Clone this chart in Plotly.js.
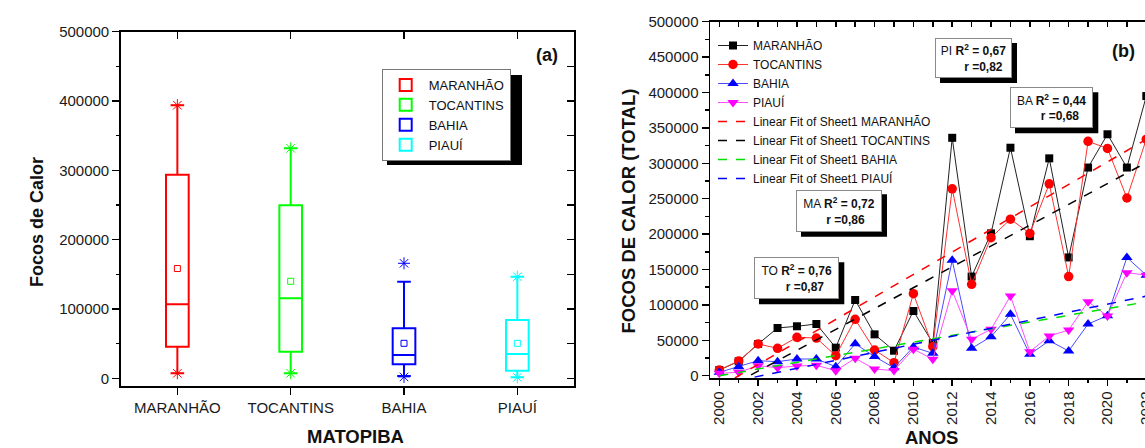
<!DOCTYPE html>
<html><head><meta charset="utf-8">
<script src="https://cdn.plot.ly/plotly-3.0.1.min.js"></script>
<style>html,body{margin:0;padding:0;overflow:hidden;background:#fff}#chart{width:1200px;height:448px}</style>
</head><body><div id="chart"></div>
<script>
// ---------- Panel (a): box plot statistics ----------
const boxStates = ['MARANHÃO', 'TOCANTINS', 'BAHIA', 'PIAUÍ'];
const boxColors = ['#ff0000', '#00ff00', '#0000ff', '#00ffff'];
const boxQ1 = [45600, 38400, 20200, 11000];
const boxMedian = [107000, 115400, 33600, 35000];
const boxQ3 = [293600, 249500, 72100, 84100];
const boxLower = [7200, 7200, 3300, 1400];
const boxUpper = [394000, 331700, 139300, 146500];
const boxMean = [158400, 140000, 50500, 50500];
const boxMin = [7200, 7200, 2000, 1400];
const boxMax = [394000, 331700, 165900, 146500];

// ---------- Panel (b): yearly series ----------
const years = [2000, 2001, 2002, 2003, 2004, 2005, 2006, 2007, 2008, 2009, 2010, 2011,
               2012, 2013, 2014, 2015, 2016, 2017, 2018, 2019, 2020, 2021, 2022];
const maranhao = [8000, 20300, 44800, 67400, 69800, 73000, 39600, 106900, 58400, 35300, 91400, 46000,
                  336000, 140000, 201000, 322000, 197000, 307000, 167000, 294000, 341000, 294000, 395000];
const tocantins = [8000, 20800, 44800, 38700, 54200, 53200, 28200, 79600, 36300, 18400, 115800, 41000,
                   264000, 129000, 195000, 221000, 201000, 271000, 140000, 331000, 321000, 251000, 334000];
const bahia = [4800, 12700, 21200, 19800, 23600, 23600, 12700, 45000, 27000, 11300, 40500, 31600,
               163000, 38700, 55100, 86700, 30200, 49400, 34900, 73000, 84800, 167000, 142000];
const piaui = [3400, 4800, 14100, 11300, 13700, 14700, 7100, 24600, 9300, 7300, 37500, 23200,
               120100, 51400, 65500, 112600, 33900, 56100, 64500, 104500, 84300, 145500, 142000];
const yearTicks = [2000, 2002, 2004, 2006, 2008, 2010, 2012, 2014, 2016, 2018, 2020, 2022];
const fitTexts = [
  {lab: 'MA', r2: '0,72', r: '0,86'},
  {lab: 'TO', r2: '0,76', r: '0,87'},
  {lab: 'BA', r2: '0,44', r: '0,68'},
  {lab: 'PI', r2: '0,67', r: '0,82'}
];

function linFit(xs, ys) {
  const n = xs.length;
  const mx = xs.reduce((a, b) => a + b, 0) / n;
  const my = ys.reduce((a, b) => a + b, 0) / n;
  let sxx = 0, sxy = 0;
  for (let i = 0; i < n; i++) { sxx += (xs[i] - mx) ** 2; sxy += (xs[i] - mx) * (ys[i] - my); }
  const b = sxy / sxx, a = my - b * mx;
  return xs.map(x => a + b * x);
}

const W = 1200, H = 448;
const px = x => x / W;
const py = y => (H - y) / H;
const FONT = 'Arial, "Liberation Sans", sans-serif';

const traces = [];
// ---- panel (b) series ----
const series = [
  {name: 'MARANHÃO', y: maranhao, color: '#000000', lc: '#222222', sym: 'square', size: 8},
  {name: 'TOCANTINS', y: tocantins, color: '#ff0000', lc: '#ff3030', sym: 'circle', size: 9.5},
  {name: 'BAHIA', y: bahia, color: '#0000ff', lc: '#4a4aff', sym: 'triangle-up', size: 10},
  {name: 'PIAUÍ', y: piaui, color: '#ff00ff', lc: '#ff4dff', sym: 'triangle-down', size: 10}
];
series.forEach(s => traces.push({
  type: 'scatter', mode: 'lines+markers', x: years, y: s.y, name: s.name,
  xaxis: 'x2', yaxis: 'y2', legend: 'legend',
  line: {color: s.lc, width: 1},
  marker: {symbol: s.sym, size: s.size, color: s.color, line: {width: 0}},
  cliponaxis: false
}));
const fitColors = ['#ff0000', '#000000', '#00e000', '#0000ff'];
series.forEach((s, i) => traces.push({
  type: 'scatter', mode: 'lines', x: years, y: linFit(years, s.y),
  name: 'Linear Fit of Sheet1 ' + s.name, xaxis: 'x2', yaxis: 'y2', legend: 'legend',
  line: {color: fitColors[i], width: 1.5, dash: 'dash'}
}));
// ---- panel (a) boxes ----
boxStates.forEach((st, i) => {
  traces.push({
    type: 'box', name: st, x: [i], q1: [boxQ1[i]], median: [boxMedian[i]], q3: [boxQ3[i]],
    lowerfence: [boxLower[i]], upperfence: [boxUpper[i]],
    xaxis: 'x', yaxis: 'y', legend: 'legend2', width: 0.2, whiskerwidth: 0.6,
    line: {color: boxColors[i], width: 2}, fillcolor: 'rgba(0,0,0,0)', boxpoints: false,
    hoverinfo: 'skip'
  });
});
boxStates.forEach((st, i) => {
  traces.push({
    type: 'scatter', mode: 'markers', x: [i, i], y: [boxMin[i], boxMax[i]], xaxis: 'x', yaxis: 'y',
    showlegend: false, hoverinfo: 'skip', cliponaxis: false,
    marker: {symbol: 'asterisk-open', size: 10, color: boxColors[i], line: {color: boxColors[i], width: 1}}
  });
  traces.push({
    type: 'scatter', mode: 'markers', x: [i], y: [boxMean[i]], xaxis: 'x', yaxis: 'y',
    showlegend: false, hoverinfo: 'skip',
    marker: {symbol: 'square-open', size: 6, color: boxColors[i], line: {color: boxColors[i], width: 1}}
  });
});
// invisible helpers so the mirrored inside-tick axes are drawn
traces.push({type: 'scatter', mode: 'markers', x: [0], y: [0], xaxis: 'x3', yaxis: 'y', showlegend: false, hoverinfo: 'skip', marker: {opacity: 0}});
traces.push({type: 'scatter', mode: 'markers', x: [0], y: [0], xaxis: 'x', yaxis: 'y3', showlegend: false, hoverinfo: 'skip', marker: {opacity: 0}});
traces.push({type: 'scatter', mode: 'markers', x: [2000], y: [0], xaxis: 'x4', yaxis: 'y2', showlegend: false, hoverinfo: 'skip', marker: {opacity: 0}});

const rangeA = [-11100, 500000];
const rangeB = [-3250, 500000];
const xRangeB = [1999.52, 2022.5];
const axBase = {showgrid: false, zeroline: false, linecolor: '#000', linewidth: 1.5, tickcolor: '#000', tickwidth: 1.5,
  tickfont: {size: 15, color: '#1a1a1a', family: FONT}};

const shapes = [];
const annotations = [];
// legend (a) shadow
shapes.push({type: 'rect', xref: 'paper', yref: 'paper', x0: px(387), x1: px(522), y0: py(165), y1: py(75),
  fillcolor: '#000', line: {width: 0}, layer: 'above'});
// fit boxes (b)
const boxes = [
  {i: 0, x0: 796, y0: 189.3, x1: 882, y1: 231.7, pad: 4},
  {i: 1, x0: 754, y0: 257.3, x1: 839.3, y1: 299.3, pad: 5},
  {i: 2, x0: 1010, y0: 87.3, x1: 1093.3, y1: 128.3, pad: 5},
  {i: 3, x0: 935, y0: 38, x1: 1012, y1: 78, pad: 6}
];
boxes.forEach(b => {
  shapes.push({type: 'rect', xref: 'paper', yref: 'paper', x0: px(b.x0 + 5), x1: px(b.x1 + 5), y0: py(b.y1 + 5), y1: py(b.y0 + 5),
    fillcolor: '#000', line: {width: 0}, layer: 'above'});
  const f = fitTexts[b.i];
  annotations.push({xref: 'paper', yref: 'paper', x: px((b.x0 + b.x1) / 2), y: py((b.y0 + b.y1) / 2),
    xanchor: 'center', yanchor: 'middle', showarrow: false, align: 'center',
    width: b.x1 - b.x0 - 2, height: b.y1 - b.y0 - 2, borderpad: 0, borderwidth: 1, bordercolor: '#8a8a8a', bgcolor: '#fff',
    text: f.lab + ' <b>R<sup>2</sup> = ' + f.r2 + '</b><br>' + '&nbsp;'.repeat(b.pad) + '<b>r =' + f.r + '</b>',
    font: {size: 12, color: '#111', family: FONT}});
});
// titles and panel labels
const lab = (x, y, text, size, angle) => ({xref: 'paper', yref: 'paper', x: px(x), y: py(y), xanchor: 'center', yanchor: 'middle',
  textangle: angle || 0, showarrow: false, text: text, font: {size: size, color: '#111', family: FONT}});
annotations.push(lab(37, 222, '<b>Focos de Calor</b>', 18, -90));
annotations.push(lab(355, 436, '<b>MATOPIBA</b>', 18.5));
annotations.push(lab(628, 211.5, '<b>FOCOS DE CALOR (TOTAL)</b>', 18.5, -90));
annotations.push(lab(931, 437.5, '<b>ANOS</b>', 18.5));
annotations.push(lab(547, 55, '<b>(a)</b>', 18));
annotations.push(lab(1123, 51, '<b>(b)</b>', 18));

const layout = {
  width: W, height: H, autosize: false, margin: {l: 0, r: 0, t: 0, b: 0},
  paper_bgcolor: '#ffffff', plot_bgcolor: 'rgba(0,0,0,0)',
  font: {family: FONT, color: '#111', size: 15},
  boxmode: 'overlay', showlegend: true,
  xaxis: Object.assign({}, axBase, {domain: [px(120.7), px(574)], anchor: 'y', range: [-0.5, 3.5],
    tickvals: [0, 1, 2, 3], ticktext: boxStates, ticks: 'outside', ticklen: 7, showline: true, mirror: true}),
  xaxis3: Object.assign({}, axBase, {overlaying: 'x', anchor: 'y', side: 'top', range: [-0.5, 3.5],
    tickvals: [0, 1, 2, 3], ticks: 'inside', ticklen: 7, showticklabels: false, showline: false}),
  yaxis: Object.assign({}, axBase, {domain: [py(386), py(31.7)], anchor: 'x', range: rangeA,
    tick0: 0, dtick: 100000, tickformat: 'd', ticks: 'outside', ticklen: 7, showline: true, mirror: true,
    minor: {tick0: 0, dtick: 50000, ticks: 'outside', ticklen: 3, tickwidth: 1.5, tickcolor: '#000'}}),
  yaxis3: Object.assign({}, axBase, {overlaying: 'y', anchor: 'x', side: 'right', range: rangeA,
    tick0: 0, dtick: 50000, ticks: 'inside', ticklen: 7, showticklabels: false, showline: false}),
  xaxis2: Object.assign({}, axBase, {domain: [px(710), px(1156)], anchor: 'y2', range: xRangeB,
    tickvals: yearTicks, ticktext: yearTicks.map(String), tickangle: -90, ticks: 'outside', ticklen: 6, showline: true, mirror: true,
    minor: {tick0: 2000, dtick: 1, ticks: 'outside', ticklen: 3, tickwidth: 1.5, tickcolor: '#000'}}),
  xaxis4: Object.assign({}, axBase, {overlaying: 'x2', anchor: 'y2', side: 'top', range: xRangeB,
    tick0: 2000, dtick: 1, ticks: 'inside', ticklen: 5, showticklabels: false, showline: false}),
  yaxis2: Object.assign({}, axBase, {domain: [py(378), py(21.7)], anchor: 'x2', range: rangeB,
    tick0: 0, dtick: 50000, tickformat: 'd', ticks: 'outside', ticklen: 7, showline: true, mirror: true,
    minor: {tick0: 0, dtick: 25000, ticks: 'outside', ticklen: 4, tickwidth: 1.5, tickcolor: '#000'}}),
  legend: {x: px(713), y: py(31), xanchor: 'left', yanchor: 'top', bgcolor: 'rgba(0,0,0,0)', borderwidth: 0,
    font: {size: 12, color: '#111', family: FONT}, tracegroupgap: 0, itemwidth: 30},
  legend2: {x: px(381.7), y: py(69), xanchor: 'left', yanchor: 'top', bgcolor: '#ffffff', bordercolor: '#777', borderwidth: 1,
    font: {size: 13, color: '#111', family: FONT}, tracegroupgap: 0, itemwidth: 36},
  shapes: shapes,
  annotations: annotations
};

Plotly.newPlot('chart', traces, layout, {displayModeBar: false, staticPlot: true});
</script>
</body></html>
